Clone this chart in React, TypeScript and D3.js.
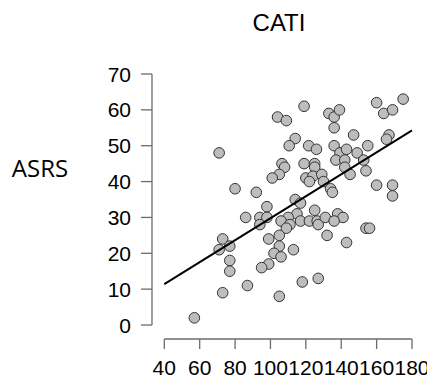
import React from "react";
import * as d3 from "d3";

// CATI (x) vs ASRS (y)
const cati = [
  119, 104, 109, 133, 136, 139, 136, 160, 175, 164, 169, 147, 167, 165.6, 114,
  71, 110.6, 121.6, 126, 136, 139.3, 143, 149, 155,
  106.5, 108, 105, 101, 119, 125, 125, 137, 142, 152.7, 142, 145, 154, 120, 124, 129, 122, 130,
  160, 169, 169, 134, 135, 80, 92,
  114, 117, 98, 115, 110, 125, 86, 94, 98, 94, 106, 111, 109, 117, 122, 126.4, 127, 131, 138, 141, 136,
  154, 156, 132, 105, 99, 143, 73, 77, 71, 105, 102, 106, 113, 77, 99, 95, 77, 87, 118, 127, 73, 105, 57,
];
const asrs = [
  61, 58, 57, 59, 58, 60, 55, 62, 63, 59, 60, 53, 53, 51.8, 52,
  48, 50, 50, 49, 50, 48, 49, 48, 50,
  45, 44, 42, 41, 45, 45, 44, 46, 46, 46, 44, 42, 43, 41, 41.5, 42, 40, 40,
  39, 39, 36, 38, 37, 38, 37,
  35, 34, 33, 31, 30, 32, 30, 30, 30, 28, 29, 28, 27, 29, 29, 29, 28, 30, 31, 30, 29,
  27, 27, 25, 25, 24, 23, 24, 22, 21, 22, 20, 19, 21, 18, 17, 16, 15, 11, 12, 13, 9, 8, 2,
];
const xTicks = [40, 60, 80, 100, 120, 140, 160, 180];
const yTicks = [0, 10, 20, 30, 40, 50, 60, 70];
// fitted line end points (x, y)
const fitX = [40, 180];
const fitY = [11.4, 54.3];

const W = 427;
const H = 379;

export default function App() {
  const x = d3.scaleLinear().domain([40, 180]).range([164.3, 412]);
  const y = d3.scaleLinear().domain([0, 70]).range([325, 74]);
  const axisColor = "#6b6b6b";
  const font = "'Liberation Sans', Arial, sans-serif";
  const line = d3
    .line<number>()
    .x((d) => x(fitX[d]))
    .y((d) => y(fitY[d]));

  return (
    <svg
      width={W}
      height={H}
      style={{ position: "absolute", left: 0, top: 0, background: "white" }}
    >
      <text x={279} y={31} textAnchor="middle" fontFamily={font} fontSize={24}>
        CATI
      </text>
      <text x={40} y={177} textAnchor="middle" fontFamily="'Open Sans', sans-serif" fontSize={24}>
        ASRS
      </text>

      {/* y axis */}
      <line x1={152} x2={152} y1={y(0)} y2={y(70)} stroke={axisColor} strokeWidth={1.3} />
      {yTicks.map((t) => (
        <g key={t}>
          <line x1={141} x2={152} y1={y(t)} y2={y(t)} stroke={axisColor} strokeWidth={1.3} />
          <text x={131} y={y(t)} dy="0.36em" textAnchor="end" fontFamily={font} fontSize={21}>
            {t}
          </text>
        </g>
      ))}

      {/* x axis */}
      <line x1={x(40)} x2={x(180)} y1={339} y2={339} stroke={axisColor} strokeWidth={1.3} />
      {xTicks.map((t) => (
        <g key={t}>
          <line x1={x(t)} x2={x(t)} y1={339} y2={349} stroke={axisColor} strokeWidth={1.3} />
          <text x={x(t)} y={375} textAnchor="middle" fontFamily={font} fontSize={21}>
            {t}
          </text>
        </g>
      ))}

      {cati.map((c, i) => (
        <circle
          key={i}
          cx={x(c)}
          cy={y(asrs[i])}
          r={5.3}
          fill="#bdbdbd"
          stroke="#333"
          strokeWidth={1}
        />
      ))}

      <path d={line([0, 1]) || ""} fill="none" stroke="#000" strokeWidth={2} />
    </svg>
  );
}
